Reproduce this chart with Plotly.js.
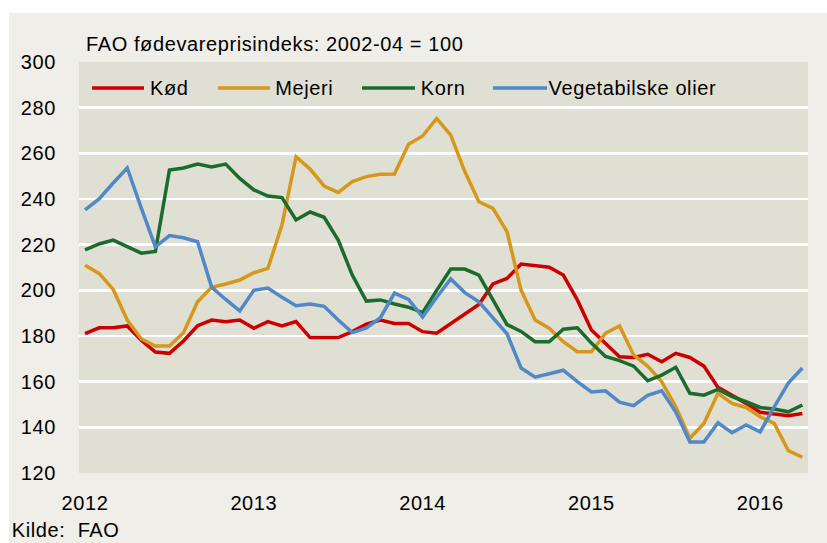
<!DOCTYPE html>
<html><head><meta charset="utf-8">
<script src="https://cdn.plot.ly/plotly-3.0.1.min.js"></script>
<style>html,body{margin:0;padding:0;background:#fff;} #chart svg text{letter-spacing:0.6px;}</style>
</head><body><div id="chart" style="width:827px;height:543px;"></div>
<script>
const months = [
 '2012-01','2012-02','2012-03','2012-04','2012-05','2012-06','2012-07','2012-08','2012-09','2012-10','2012-11','2012-12',
 '2013-01','2013-02','2013-03','2013-04','2013-05','2013-06','2013-07','2013-08','2013-09','2013-10','2013-11','2013-12',
 '2014-01','2014-02','2014-03','2014-04','2014-05','2014-06','2014-07','2014-08','2014-09','2014-10','2014-11','2014-12',
 '2015-01','2015-02','2015-03','2015-04','2015-05','2015-06','2015-07','2015-08','2015-09','2015-10','2015-11','2015-12',
 '2016-01','2016-02','2016-03','2016-04'];

const koed = [181, 183.6, 183.6, 184.4, 178.2, 173, 172.4, 177.8, 184.5, 187, 186.3, 187,
 183.4, 186.3, 184.4, 186.3, 179.3, 179.3, 179.3, 181.9, 185.2, 187, 185.5, 185.5,
 181.9, 181.2, 185.5, 189.9, 193.8, 202.8, 205.2, 211.5, 210.8, 210.1, 206.7, 195.8,
 182.6, 176.8, 170.9, 170.6, 172, 168.7, 172.4, 170.6, 166.8, 157.5, 154.1, 150.5,
 146.6, 145.8, 145.1, 146.1];

const mejeri = [211, 207.4, 200.4, 187, 178.7, 175.6, 175.6, 181.4, 195, 201.3, 202.8, 204.5,
 207.7, 209.6, 228.6, 258.5, 253.1, 245.7, 242.9, 247.6, 249.8, 250.8, 250.9, 264,
 267.6, 275.3, 268, 252, 238.8, 235.9, 225.7, 200.1, 187, 183.4, 177.5, 173.1,
 173.1, 181.2, 184.4, 171.7, 166.8, 160, 149, 135.2, 141.7, 154.9, 150.5, 148.7,
 144.6, 141.7, 129.8, 126.9];

const korn = [217.7, 220.3, 222, 219, 216.3, 217, 252.7, 253.6, 255.3, 254, 255.3, 249,
 244, 241.3, 240.6, 230.8, 234.3, 232, 222, 206.7, 195.3, 195.8, 194, 192.6,
 190.2, 200, 209.3, 209.3, 206.7, 195.8, 185, 182, 177.5, 177.5, 183, 183.6,
 176.9, 171, 169.2, 166.8, 160.4, 162.9, 166.3, 154.9, 154.1, 156.6, 153.4, 151.2,
 148.7, 148, 146.8, 149.8];

const vegOlier = [235.2, 240, 247, 253.6, 236, 219, 224, 223, 221.3, 201.4, 196, 191,
 200, 201, 197, 193.3, 194, 193, 187, 181.5, 183.5, 188, 198.8, 196,
 188.3, 197, 205, 199, 195, 188, 181, 166, 162, 163.5, 165, 160,
 155.5, 156, 151, 149.5, 154, 156, 146.7, 133.6, 133.6, 142, 137.6, 141,
 138, 149, 159.4, 166];

const seriesNames = ['Kød', 'Mejeri', 'Korn', 'Vegetabilske olier'];
const seriesColors = ['#CC0000', '#D6981B', '#1A6B2C', '#5088C8'];
const tickMonths = ['2012-01','2013-01','2014-01','2015-01','2016-01'];
const tickLabels = ['2012','2013','2014','2015','2016'];
const yTicks = [120,140,160,180,200,220,240,260,280,300];

const FONT = 'Liberation Sans, Arial, sans-serif';
const W = 827, H = 543;
const M = {l: 79, r: 19, t: 62, b: 70};
const pw = W - M.l - M.r, ph = H - M.t - M.b;
const px = x => (x - M.l) / pw;
const py = y => (H - M.b - y) / ph;

const allSeries = [koed, mejeri, korn, vegOlier];
const traces = allSeries.map((vals, i) => ({
  type: 'scatter', mode: 'lines', x: months, y: vals, name: seriesNames[i],
  line: {color: seriesColors[i], width: 3.5}, showlegend: false, hoverinfo: 'skip'
}));

// legend drawn manually (line + label) to match reference geometry
const legendLineX = [[92,144],[218,270],[362,415],[493,547]];
const legendY = 88;
const shapes = [
  {type:'rect', xref:'paper', yref:'paper', x0: px(9), x1: px(830), y0: py(546), y1: py(13),
   fillcolor:'#EFEEE8', line:{width:0}, layer:'below'},
  {type:'rect', xref:'paper', yref:'paper', x0: 0, x1: 1, y0: 0, y1: 1,
   fillcolor:'#E0DFD4', line:{width:0}, layer:'below'}
];
const annotations = [];
seriesNames.forEach((n, i) => {
  shapes.push({type:'line', xref:'paper', yref:'paper', x0: px(legendLineX[i][0]), x1: px(legendLineX[i][1]),
    y0: py(legendY), y1: py(legendY), line:{color: seriesColors[i], width: 3.5}});
  annotations.push({xref:'paper', yref:'paper', x: px(legendLineX[i][1] + 5), y: py(legendY),
    xanchor:'left', yanchor:'middle', text: n, showarrow:false, font:{family:FONT, size:20, color:'#000'}});
});
annotations.push({xref:'paper', yref:'paper', x: px(13), y: py(530), xanchor:'left', yanchor:'middle',
  text:'Kilde:  FAO', showarrow:false, font:{family:FONT, size:20, color:'#000'}});

const layout = {
  width: W, height: H, margin: M,
  paper_bgcolor: '#ffffff', plot_bgcolor: 'rgba(0,0,0,0)',
  font: {family: FONT, size: 20, color: '#000'},
  title: {text: 'FAO fødevareprisindeks: 2002-04 = 100', font: {family: FONT, size: 20, color: '#000'},
          xref: 'container', yref: 'container', x: 86 / W, xanchor: 'left', y: 1 - 44 / H, yanchor: 'middle'},
  xaxis: {type: 'category', range: [-0.43, 51.4], tickvals: tickMonths, ticktext: tickLabels,
          showgrid: false, zeroline: false, showline: false, ticks: '', ticklabelstandoff: 16,
          tickfont: {family: FONT, size: 20, color: '#000'}},
  yaxis: {range: [120, 300], tickvals: yTicks, showgrid: true, gridcolor: '#ffffff', gridwidth: 2.5,
          zeroline: false, showline: false, ticks: '', ticklabelstandoff: 22,
          tickfont: {family: FONT, size: 20, color: '#000'}},
  shapes: shapes, annotations: annotations, showlegend: false
};
Plotly.newPlot('chart', traces, layout, {staticPlot: true, displayModeBar: false});
</script></body></html>
